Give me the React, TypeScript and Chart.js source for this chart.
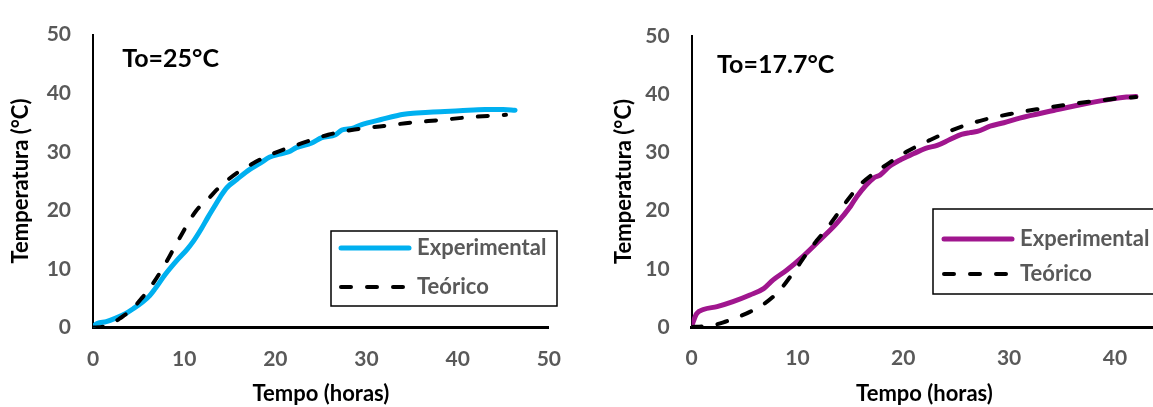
import React, { useEffect, useRef } from "react";
import { Chart, registerables } from "chart.js";

Chart.register(...registerables);

const FONT = 'Lato, "Open Sans", "Noto Sans", sans-serif';
const TICK_GRAY = "#595959";

// ---- data: left chart (To = 25 °C) ----
const exp25Time = [0, 0.5, 1.45, 2.5, 3.6, 4.5, 5.4, 6.2, 6.85, 7.9, 9.35, 10.3, 11.0, 11.9, 12.6, 13.3, 14.0, 14.7, 15.8, 17.2, 18.3, 19.4, 20.5, 21.5, 22.3, 24.0, 25.1, 26.6, 27.3, 28.4, 29.4, 31.6, 34.1, 35.5, 37.3, 40.2, 43.0, 45.0, 46.3];
const exp25Temp = [0.2, 0.7, 1.0, 1.6, 2.4, 3.3, 4.3, 5.4, 6.7, 9.0, 11.7, 13.3, 14.7, 16.9, 18.8, 20.6, 22.4, 23.9, 25.3, 27.0, 28.0, 29.1, 29.6, 30.0, 30.7, 31.5, 32.4, 32.9, 33.7, 34.0, 34.6, 35.5, 36.4, 36.6, 36.8, 37.0, 37.2, 37.2, 37.1];
const teo25Time = [0, 1, 2, 2.9, 4.2, 5.4, 6.4, 7.4, 8.2, 9.0, 9.8, 10.6, 11.3, 12.0, 12.6, 13.5, 14.4, 15.8, 17.2, 18.6, 20.1, 21.5, 23.0, 25.8, 28.7, 31.9, 35.0, 38.0, 41.3, 44.3, 45.3];
const teo25Temp = [0, 0.1, 0.6, 1.5, 3.0, 5.1, 7.1, 9.5, 11.6, 13.9, 16.1, 18.3, 19.9, 21.1, 21.9, 23.4, 24.7, 26.4, 27.7, 28.9, 29.9, 30.7, 31.5, 32.9, 33.8, 34.4, 35.0, 35.4, 35.9, 36.2, 36.3];

// ---- data: right chart (To = 17.7 °C) ----
const exp177Time = [0, 0.47, 1.1, 2.4, 3.9, 5.5, 6.8, 7.7, 9.0, 10.5, 12.1, 13.7, 15.0, 15.6, 17.2, 17.8, 18.7, 19.7, 21.0, 22.1, 23.2, 24.4, 25.5, 26.3, 27.0, 28.2, 29.5, 31.0, 34.2, 37.3, 39.8, 41.1, 42.0];
const exp177Temp = [0.2, 2.3, 3.0, 3.5, 4.35, 5.5, 6.6, 8.1, 9.8, 12.1, 14.9, 17.8, 20.7, 22.4, 25.6, 26.1, 27.6, 28.7, 29.8, 30.7, 31.2, 32.2, 33.1, 33.4, 33.6, 34.5, 35.1, 35.9, 37.2, 38.4, 39.2, 39.5, 39.6];
const teo177Time = [0, 1.1, 2, 3.0, 4.2, 5.5, 6.7, 7.7, 8.5, 9.3, 10.1, 10.9, 11.8, 12.8, 13.7, 14.6, 15.9, 17.0, 18.1, 20.3, 22.5, 25.0, 27.6, 30.1, 32.6, 35.1, 37.6, 40.5, 42.0];
const teo177Temp = [0, 0.1, 0.3, 0.8, 1.6, 2.6, 3.8, 5.2, 6.7, 8.6, 10.6, 12.7, 14.8, 17.0, 19.2, 21.5, 24.4, 26.1, 27.5, 30.1, 32.1, 34.1, 35.6, 36.6, 37.4, 38.1, 38.7, 39.3, 39.5];

const seriesLabels = ["Experimental", "Teórico"];
const xTitle = "Tempo (horas)";
const yTitle = "Temperatura (°C)";
const leftNote = "To=25°C";
const rightNote = "To=17.7°C";

const zip = (xs: number[], ys: number[]) => xs.map((x, i) => ({ x, y: ys[i] }));

const framedLegend = {
  id: "framedLegend",
  afterDraw(chart: any, _args: any, opts: any) {
    const ctx = chart.ctx;
    ctx.save();
    ctx.lineWidth = 1.5;
    ctx.strokeStyle = "#000";
    ctx.setLineDash([]);
    ctx.strokeRect(opts.left, opts.top, opts.boxW, opts.boxH);
    chart.data.datasets.forEach((ds: any, i: number) => {
      const y = opts.rows[i];
      ctx.beginPath();
      ctx.setLineDash(ds.borderDash || []);
      ctx.lineWidth = ds.borderWidth;
      ctx.lineCap = "round";
      ctx.strokeStyle = ds.borderColor;
      ctx.moveTo(opts.sampleX, y);
      ctx.lineTo(opts.sampleX + opts.sampleW, y);
      ctx.stroke();
      ctx.setLineDash([]);
      ctx.fillStyle = TICK_GRAY;
      ctx.font = `bold 22px ${FONT}`;
      ctx.textBaseline = "middle";
      ctx.textAlign = "left";
      ctx.fillText(ds.label, opts.textX, y);
    });
    ctx.restore();
  },
};

const cornerNote = {
  id: "cornerNote",
  afterDraw(chart: any, _args: any, opts: any) {
    const ctx = chart.ctx;
    const xs = chart.scales.x;
    const ys = chart.scales.y;
    ctx.save();
    ctx.fillStyle = "#000";
    ctx.font = `bold ${opts.size}px ${FONT}`;
    ctx.textBaseline = "middle";
    ctx.textAlign = "left";
    ctx.fillText(opts.text, xs.getPixelForValue(opts.atX), ys.getPixelForValue(opts.atY));
    ctx.restore();
  },
};

function buildConfig(p: any) {
  return {
    type: "line",
    data: {
      datasets: [
        {
          label: seriesLabels[0],
          data: zip(p.expX, p.expY),
          borderColor: p.color,
          borderWidth: 5,
          pointRadius: 0,
          cubicInterpolationMode: "monotone",
          borderCapStyle: "round",
          borderJoinStyle: "round",
          order: 2,
        },
        {
          label: seriesLabels[1],
          data: zip(p.teoX, p.teoY),
          borderColor: "#000",
          borderWidth: 4,
          borderDash: [10, 16],
          pointRadius: 0,
          cubicInterpolationMode: "monotone",
          borderCapStyle: "round",
          order: 1,
        },
      ],
    },
    options: {
      animation: false,
      responsive: false,
      devicePixelRatio: 1,
      layout: { padding: p.padding },
      plugins: {
        legend: { display: false },
        tooltip: { enabled: false },
        framedLegend: p.legend,
        cornerNote: p.note,
      },
      scales: {
        x: {
          type: "linear",
          min: 0,
          max: p.xMax,
          grid: { display: false, drawTicks: false },
          border: { display: true, color: "#000", width: 3 },
          ticks: {
            stepSize: 10,
            padding: 19,
            color: TICK_GRAY,
            font: { family: FONT, size: 21, weight: "bold" },
            callback: (v: number) => (v % 10 === 0 ? String(v) : ""),
          },
          title: {
            display: true,
            text: xTitle,
            color: "#000",
            font: { family: FONT, size: 22, weight: "bold" },
            padding: { top: 0, bottom: 0 },
          },
          afterFit: (s: any) => {
            s.height = p.xHeight;
          },
        },
        y: {
          type: "linear",
          min: 0,
          max: 50,
          grid: { display: false, drawTicks: false },
          border: { display: true, color: "#000", width: 2 },
          ticks: {
            stepSize: 10,
            padding: 22,
            color: TICK_GRAY,
            font: { family: FONT, size: 21, weight: "bold" },
          },
          title: {
            display: true,
            text: yTitle,
            color: "#000",
            font: { family: FONT, size: 22, weight: "bold" },
            padding: { top: p.yTitlePad, bottom: 0 },
          },
          afterFit: (s: any) => {
            s.width = p.yWidth;
          },
        },
      },
    },
    plugins: [framedLegend, cornerNote],
  };
}

function TempChart(props: any) {
  const ref = useRef<HTMLCanvasElement | null>(null);
  useEffect(() => {
    if (!ref.current) return;
    const chart = new Chart(ref.current, buildConfig(props.cfg) as any);
    return () => chart.destroy();
  }, []);
  return (
    <canvas
      ref={ref}
      width={props.w}
      height={407}
      style={{ position: "absolute", left: props.left, top: 0, width: props.w, height: 407 }}
    />
  );
}

const leftCfg = {
  expX: exp25Time,
  expY: exp25Temp,
  teoX: teo25Time,
  teoY: teo25Temp,
  color: "#00B0F0",
  xMax: 50,
  padding: { left: 0, top: 24.5, right: 22, bottom: 0 },
  xHeight: 79.5,
  yWidth: 93,
  yTitlePad: 8,
  legend: { left: 331, top: 231, boxW: 226, boxH: 75, sampleX: 341, sampleW: 68, textX: 417, rows: [248, 287] },
  note: { text: leftNote, atX: 3.2, atY: 45.9, size: 25 },
};

const rightCfg = {
  expX: exp177Time,
  expY: exp177Temp,
  teoX: teo177Time,
  teoY: teo177Temp,
  color: "#A0168E",
  xMax: 44,
  padding: { left: 0, top: 36, right: 22.8, bottom: 0 },
  xHeight: 80,
  yWidth: 91.7,
  yTitlePad: 11,
  legend: { left: 333, top: 209, boxW: 260, boxH: 85, sampleX: 344, sampleW: 68, textX: 420, rows: [239, 274] },
  note: { text: rightNote, atX: 2.4, atY: 45, size: 25 },
};

export default function App() {
  return (
    <div style={{ position: "absolute", left: 0, top: 0, width: 1153, height: 407, overflow: "hidden", background: "#fff" }}>
      <TempChart cfg={leftCfg} left={0} w={580} />
      <TempChart cfg={rightCfg} left={600} w={580} />
    </div>
  );
}
